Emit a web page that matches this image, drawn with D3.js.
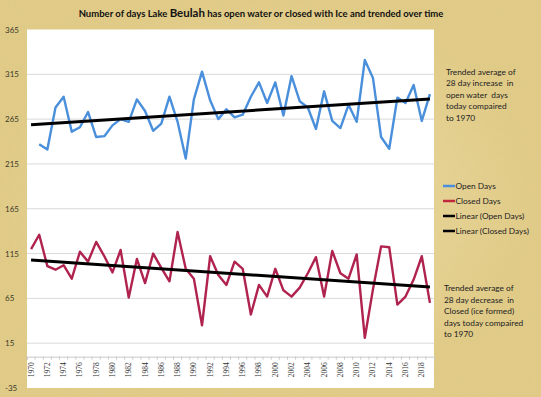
<!doctype html>
<html lang="en">
  <head>
    <meta charset="utf-8">
    <title>Lake Beulah open / closed days</title>
    <style>
    body { margin: 0; background: #fff; }
    .tick-label { font-family: Lato, "Open Sans", sans-serif; font-size: 8px; fill: #3a3a2a; }
    .note { font-family: Lato, "Open Sans", sans-serif; font-size: 8.3px; fill: #222; white-space: pre; }
    </style>
  </head>
  <body>
    <div id="content"></div>
    <script src="https://d3js.org/d3.v7.min.js"></script>
    <script type="text/javascript">
    var w = 541;
    var h = 397;

    // data (null = no value that year)
    var years = d3.range(1970, 2020);
    var openDays = [null, 237, 231, 278, 290, 251, 256, 273, 245, 246,
                    258, 265, 262, 287, 274, 252, 260, 290, 262, 221,
                    287, 318, 286, 265, 276, 267, 270, 290, 306, 283,
                    306, 269, 313, 285, 278, 254, 296, 263, 255, 281,
                    262, 331, 311, 245, 232, 289, 283, 303, 263, 293];
    var closedDays = [120, 136, 101, 97, 102, 87, 117, 106, 128, 112,
                      94, 119, 66, 109, 82, 115, 99, 84, 139, 98,
                      87, 35, 112, 91, 80, 106, 98, 47, 80, 67,
                      98, 74, 67, 77, 93, 111, 67, 118, 93, 87,
                      114, 21, 75, 123, 122, 58, 67, 86, 112, 60];
    var yTicks = [-35, 15, 65, 115, 165, 215, 265, 315, 365];
    var seriesNames = ['Open Days', 'Closed Days', 'Linear (Open Days)', 'Linear (Closed Days)'];
    var note1 = ['Trended average of', '28 day increase  in', 'open water  days', 'today compaired', 'to 1970'];
    var note2 = ['Trended average of', '28 day decrease  in', 'Closed (ice formed)', 'days today compaired', 'to 1970'];

    var plot = {left: 27, right: 434, top: 29.5, bottom: 388};

    var svg = d3.select('#content')
                .append('svg')
                .attr('width', w)
                .attr('height', h);

    // parchment background
    var defs = svg.append('defs');
    var grad = defs.append('radialGradient').attr('id', 'paper');
    grad.append('stop').attr('offset', '0%').attr('stop-color', '#efe0a8');
    grad.append('stop').attr('offset', '100%').attr('stop-color', '#e2cc88');
    var grain = defs.append('filter').attr('id', 'grain');
    grain.append('feTurbulence')
      .attr('type', 'fractalNoise')
      .attr('baseFrequency', '0.9 0.25')
      .attr('numOctaves', 2)
      .attr('seed', 3);
    grain.append('feColorMatrix')
      .attr('type', 'matrix')
      .attr('values', '0 0 0 0 0.55  0 0 0 0 0.45  0 0 0 0 0.2  0 0 0 0.35 0');
    svg.append('rect')
      .attr('width', w)
      .attr('height', h)
      .attr('fill', 'url(#paper)');
    svg.append('rect')
      .attr('width', w)
      .attr('height', h)
      .attr('filter', 'url(#grain)')
      .attr('opacity', 0.35);

    var xScale = d3.scaleBand()
                   .domain(years)
                   .range([plot.left, plot.right]);
    var xc = d => xScale(d) + xScale.bandwidth() / 2;

    var yScale = d3.scaleLinear()
                   .domain([-35, 365])
                   .range([plot.bottom, plot.top]);

    svg.append('rect')
      .attr('x', plot.left)
      .attr('y', plot.top)
      .attr('width', plot.right - plot.left)
      .attr('height', plot.bottom - plot.top)
      .attr('fill', '#fff');

    // gridlines
    svg.append('g')
      .selectAll('line')
      .data(yTicks.filter(d => d > -35 && d < 365))
      .join('line')
      .attr('x1', plot.left)
      .attr('x2', plot.right)
      .attr('y1', d => yScale(d))
      .attr('y2', d => yScale(d))
      .attr('stroke', '#d9d9d9')
      .attr('stroke-width', 1);

    // y labels
    svg.append('g')
      .selectAll('text')
      .data(yTicks)
      .join('text')
      .attr('class', 'tick-label')
      .attr('x', 5)
      .attr('y', d => yScale(d) + 3)
      .text(d => d);

    // x axis at zero
    var xAxis = d3.axisBottom(xScale)
                  .tickSizeOuter(0)
                  .tickSize(3)
                  .tickFormat('');
    var xg = svg.append('g')
      .attr('transform', `translate(0, ${yScale(0)})`)
      .call(xAxis);
    xg.select('.domain').attr('stroke', '#c8c8c8');
    xg.selectAll('.tick line')
      .attr('stroke', '#c8c8c8')
      .attr('transform', `translate(${-xScale.bandwidth() / 2}, 0)`);

    svg.append('g')
      .selectAll('text')
      .data(years.filter(d => d % 2 === 0))
      .join('text')
      .attr('transform', d => `translate(${xc(d) + 2.5}, ${yScale(0) + 5.5}) rotate(-90)`)
      .attr('text-anchor', 'end')
      .style('font-family', '"Liberation Serif", "DejaVu Serif", serif')
      .style('font-size', '7.5px')
      .style('fill', '#333')
      .text(d => d);

    // series
    var openData = years.map((y, i) => ({x: y, y: openDays[i]}));
    var closedData = years.map((y, i) => ({x: y, y: closedDays[i]}));

    var line = d3.line()
                 .defined(d => d.y != null)
                 .x(d => xc(d.x))
                 .y(d => yScale(d.y));

    svg.append('path')
      .datum(openData)
      .attr('d', line)
      .attr('fill', 'none')
      .attr('stroke', '#4a8fdb')
      .attr('stroke-width', 2.4)
      .attr('stroke-linejoin', 'round');

    svg.append('path')
      .datum(closedData)
      .attr('d', line)
      .attr('fill', 'none')
      .attr('stroke', '#b0234f')
      .attr('stroke-width', 2.4)
      .attr('stroke-linejoin', 'round');

    // least squares trend across the whole year range
    function trend(data) {
      var pts = data.filter(d => d.y != null);
      var mx = d3.mean(pts, d => d.x), my = d3.mean(pts, d => d.y);
      var b = d3.sum(pts, d => (d.x - mx) * (d.y - my)) / d3.sum(pts, d => (d.x - mx) * (d.x - mx));
      return [years[0], years[years.length - 1]].map(x => ({x: x, y: my + b * (x - mx)}));
    }

    [openData, closedData].forEach(data => {
      svg.append('path')
        .datum(trend(data))
        .attr('d', line)
        .attr('fill', 'none')
        .attr('stroke', '#000')
        .attr('stroke-width', 3);
    });

    // title
    var title = svg.append('text')
      .attr('x', 261)
      .attr('y', 17)
      .attr('text-anchor', 'middle')
      .style('font-family', 'Lato, "Open Sans", sans-serif')
      .style('font-weight', 'bold')
      .style('font-size', '9.5px')
      .style('fill', '#111');
    title.append('tspan').text('Number of days Lake ');
    title.append('tspan').style('font-size', '11.5px').text('Beulah');
    title.append('tspan').text(' has open water or closed with Ice and trended over time');

    // legend
    var legendColors = ['#4a8fdb', '#c0283c', '#000', '#000'];
    var lg = svg.append('g').attr('transform', 'translate(443, 186)');
    seriesNames.forEach((name, i) => {
      lg.append('line')
        .attr('x1', 0).attr('x2', 12)
        .attr('y1', i * 15).attr('y2', i * 15)
        .attr('stroke', legendColors[i])
        .attr('stroke-width', 2.5);
      lg.append('text')
        .attr('class', 'note')
        .attr('x', 12.5)
        .attr('y', i * 15 + 3)
        .text(name);
    });

    // side notes
    function addNote(lines, x, y) {
      svg.append('g')
        .selectAll('text')
        .data(lines)
        .join('text')
        .attr('class', 'note')
        .attr('x', x)
        .attr('y', (d, i) => y + i * 11.6)
        .text(d => d);
    }
    addNote(note1, 446, 74.5);
    addNote(note2, 444, 291);
    </script>
  </body>
</html>
